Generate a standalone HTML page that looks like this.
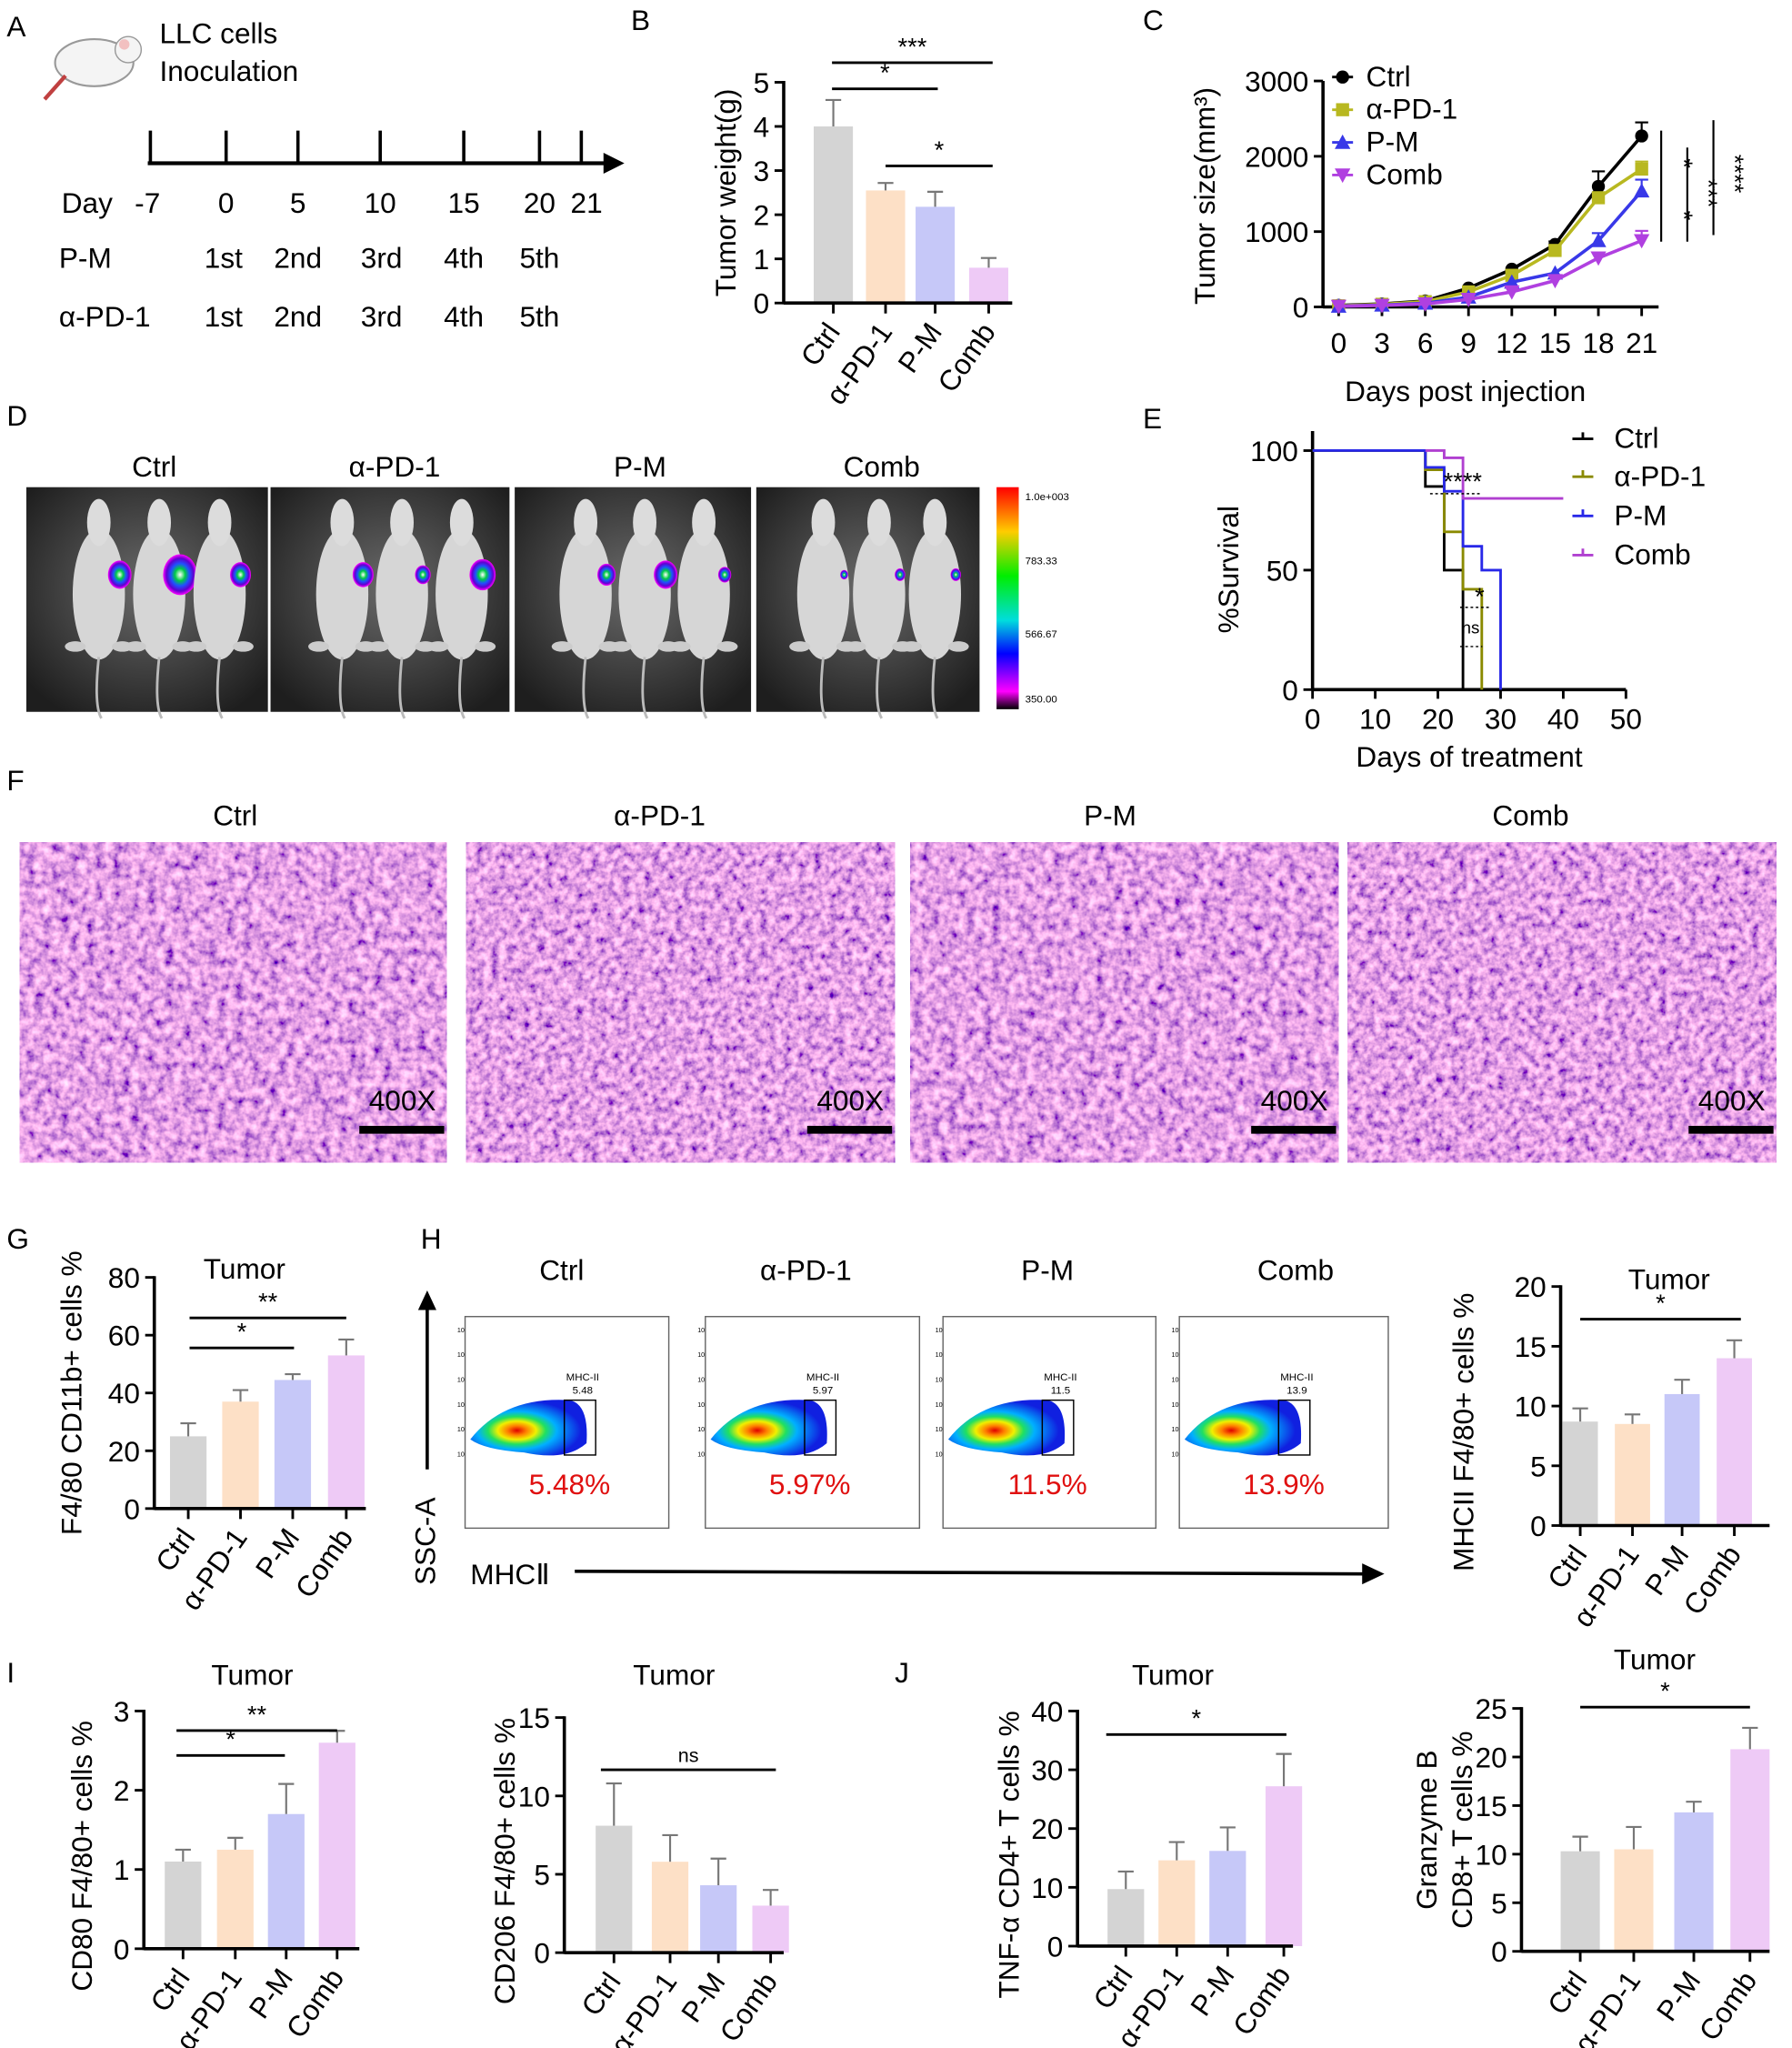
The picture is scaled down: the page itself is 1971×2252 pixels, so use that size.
<!DOCTYPE html>
<html><head><meta charset="utf-8">
<style>
html,body{margin:0;padding:0;background:#fff;}
svg{display:block;font-family:"Liberation Sans",Arial,sans-serif;}
</style></head>
<body>
<svg id="s" xmlns="http://www.w3.org/2000/svg" width="1971" height="2252" viewBox="0 0 1372 1568">
<defs>
<filter id="he" x="0" y="0" width="100%" height="100%">
<feTurbulence type="fractalNoise" baseFrequency="0.15" numOctaves="3" seed="3"/>
<feColorMatrix type="matrix" values="1.8 0 0 0 -0.12  1.1 0 0 0 -0.2  0.8 0 0 0 0.38  0 0 0 0 1"/>
</filter>
<filter id="he2" x="0" y="0" width="100%" height="100%">
<feTurbulence type="fractalNoise" baseFrequency="0.17" numOctaves="3" seed="9"/>
<feColorMatrix type="matrix" values="1.8 0 0 0 -0.12  1.1 0 0 0 -0.2  0.8 0 0 0 0.38  0 0 0 0 1"/>
</filter>
<radialGradient id="bg" cx="50%" cy="45%" r="65%"><stop offset="0" stop-color="#6a6a6a"/><stop offset="1" stop-color="#1e1e1e"/></radialGradient>
<linearGradient id="cb" x1="0" y1="0" x2="0" y2="1">
<stop offset="0" stop-color="#ff0000"/><stop offset="0.2" stop-color="#ffcc00"/><stop offset="0.4" stop-color="#00ee00"/><stop offset="0.6" stop-color="#00dddd"/><stop offset="0.75" stop-color="#0000ff"/><stop offset="0.92" stop-color="#ff00ff"/><stop offset="1" stop-color="#000"/></linearGradient>
<radialGradient id="flow" cx="40%" cy="55%" r="55%"><stop offset="0" stop-color="#e00000"/><stop offset="0.15" stop-color="#ff8000"/><stop offset="0.3" stop-color="#f0f000"/><stop offset="0.45" stop-color="#20e060"/><stop offset="0.62" stop-color="#00b0ff"/><stop offset="1" stop-color="#1020e0"/></radialGradient>
<radialGradient id="lum" cx="50%" cy="50%" r="50%"><stop offset="0" stop-color="#ffffff"/><stop offset="0.3" stop-color="#00cc44"/><stop offset="0.55" stop-color="#2050ff"/><stop offset="0.8" stop-color="#6000d0"/><stop offset="1" stop-color="#ff00ff"/></radialGradient>
</defs>
<g id="root"></g>
</svg>
<script>
const root=document.getElementById('root');
let H='';
function t(x,y,s,o){o=o||{};H+=`<text x="${x}" y="${y}" font-size="${o.fs||22}" text-anchor="${o.a||'start'}" fill="${o.c||'#000'}" ${o.r!==undefined?`transform="rotate(${o.r} ${x} ${y})"`:''} ${o.fw?`font-weight="${o.fw}"`:''}>${s}</text>`;}
function l(x1,y1,x2,y2,w,c,d){H+=`<line x1="${x1}" y1="${y1}" x2="${x2}" y2="${y2}" stroke="${c||'#000'}" stroke-width="${w||2}" ${d?`stroke-dasharray="${d}"`:''}/>`;}
const COL=['#d4d4d4','#fde0c6','#c6c8f8','#eecaf6'];
const XL=['Ctrl','α-PD-1','P-M','Comb'];
function bar(o){
 const sc=(o.yb-o.yt)/o.max; const Y=v=>o.yb-v*sc;
 o.bars.forEach((b,i)=>{
  H+=`<rect x="${b[0]-o.w/2}" y="${Y(b[1])}" width="${o.w}" height="${b[1]*sc}" fill="${COL[i]}"/>`;
  l(b[0],Y(b[1]),b[0],Y(b[2]),1.5,'#777');l(b[0]-6,Y(b[2]),b[0]+6,Y(b[2]),1.5,'#777');
 });
 l(o.x0,o.yt-1,o.x0,o.yb+1,2.5);l(o.x0,o.yb,o.xe,o.yb,2.5);
 for(let v=0;v<=o.max+1e-9;v+=o.step){l(o.x0-7,Y(v),o.x0,Y(v),2);t(o.x0-11,Y(v)+8,v,{a:'end'});}
 o.bars.forEach((b,i)=>{l(b[0],o.yb,b[0],o.yb+8,2);t(b[0]+6,o.yb+22,XL[i],{a:'end',r:-55});});
 (o.sig||[]).forEach(s=>{l(s[0],s[2],s[1],s[2],2);t((s[0]+s[1])/2,s[2]-6,s[3],{a:'middle',fs:s[3]=='ns'?15:19});});
 if(o.title)t(o.title[0],o.title[1],'Tumor',{a:'middle'});
 (o.yl||[]).forEach(y=>t(y[0],(o.yt+o.yb)/2+(y[2]||0),y[1],{a:'middle',r:-90}));
}
// ---------- A ----------
t(5,28,'A');
H+=`<ellipse cx="72" cy="48" rx="30" ry="18" fill="#f4f4f4" stroke="#999" stroke-width="1.5"/><circle cx="98" cy="38" r="10" fill="#f4f4f4" stroke="#999"/><circle cx="95" cy="34" r="4" fill="#f2c0c0"/><line x1="50" y1="58" x2="34" y2="76" stroke="#c04040" stroke-width="3"/>`;
t(122,33,'LLC cells');t(122,62,'Inoculation');
l(113,125,465,125,3);H+=`<polygon points="462,117 478,125 462,133" fill="#000"/>`;
[115,173,228,291,355,413,445].forEach(x=>l(x,100,x,125,2.5));
t(47,163,'Day');t(103,163,'-7');t(173,163,'0',{a:'middle'});t(228,163,'5',{a:'middle'});t(291,163,'10',{a:'middle'});t(355,163,'15',{a:'middle'});t(413,163,'20',{a:'middle'});t(449,163,'21',{a:'middle'});
t(45,205,'P-M');t(45,250,'α-PD-1');
[['1st',171],['2nd',228],['3rd',292],['4th',355],['5th',413]].forEach(a=>{t(a[1],205,a[0],{a:'middle'});t(a[1],250,a[0],{a:'middle'});});
// ---------- B ----------
t(483,23,'B');
bar({x0:600,xe:775,yt:63,yb:232,max:5,step:1,w:30,bars:[[638,4,4.6],[678,2.55,2.72],[716,2.18,2.52],[757,0.8,1.02]],
 sig:[[637,760,48,'***'],[637,718,68,'*'],[678,760,127,'*']],yl:[[563,'Tumor weight(g)']]});
// ---------- C ----------
t(875,23,'C');
(function(){
 const x0=1013,yb=235,yt=62,X=d=>1025+d*11.05,Y=v=>yb-v*(yb-yt)/3000;
 l(x0,yt,x0,yb+1,2.5);l(x0,yb,1270,yb,2.5);
 [0,1000,2000,3000].forEach(v=>{l(x0-7,Y(v),x0,Y(v),2);t(x0-11,Y(v)+8,v,{a:'end'});});
 [0,3,6,9,12,15,18,21].forEach(d=>{l(X(d),yb,X(d),yb+7,2);t(X(d),yb+35,d,{a:'middle'});});
 const D=[0,3,6,9,12,15,18,21];
 const S=[['#000',[20,40,80,250,500,830,1600,2270],'c',[0,0,0,0,0,40,200,180]],['#b8b820',[15,35,70,200,420,750,1450,1830],'s',[0,0,0,0,0,0,0,100]],['#3838e8',[10,25,50,130,330,450,880,1540],'t',[0,0,0,0,0,0,100,150]],['#b040e0',[8,20,40,100,200,350,650,880],'v',[0,0,0,0,0,0,0,130]]];
 S.forEach(s=>{
  let p=D.map((d,i)=>X(d)+','+Y(s[1][i])).join(' ');
  H+=`<polyline points="${p}" fill="none" stroke="${s[0]}" stroke-width="2.5"/>`;
  D.forEach((d,i)=>{const x=X(d),y=Y(s[1][i]);if(s[3][i]){l(x,y,x,Y(s[1][i]+s[3][i]),1.5,s[0]);l(x-5,Y(s[1][i]+s[3][i]),x+5,Y(s[1][i]+s[3][i]),1.5,s[0]);}
   mk(s[2],x,y,s[0]);});
 });
 function mk(k,x,y,c){if(k=='c')H+=`<circle cx="${x}" cy="${y}" r="5" fill="${c}"/>`;else if(k=='s')H+=`<rect x="${x-5}" y="${y-5}" width="10" height="10" fill="${c}"/>`;else if(k=='t')H+=`<polygon points="${x},${y-6} ${x-6},${y+5} ${x+6},${y+5}" fill="${c}"/>`;else H+=`<polygon points="${x},${y+6} ${x-6},${y-5} ${x+6},${y-5}" fill="${c}"/>`;}
 [['Ctrl',66],['α-PD-1',91],['P-M',116],['Comb',141]].forEach((a,i)=>{l(1020,a[1]-7,1036,a[1]-7,2,S[i][0]);mk(S[i][2],1028,a[1]-7,S[i][0]);t(1046,a[1],a[0]);});
 l(1272,100,1272,185,1.5);l(1292,113,1292,185,1.5);l(1312,92,1312,180,1.5);
 t(1283,125,'*',{a:'middle',r:90,fs:19});t(1283,165,'*',{a:'middle',r:90,fs:19});t(1302,148,'***',{a:'middle',r:90,fs:19});t(1322,133,'****',{a:'middle',r:90,fs:19});
 t(1122,307,'Days post injection',{a:'middle'});
 t(930,150,'Tumor size(mm³)',{a:'middle',r:-90});
})();
// ---------- D ----------
t(5,326,'D');
[[20,205,'Ctrl',118],[207,390,'α-PD-1',302],[394,575,'P-M',490],[579,750,'Comb',675]].forEach((p,k)=>{
 H+=`<rect x="${p[0]}" y="373" width="${p[1]-p[0]}" height="172" fill="url(#bg)"/>`;
 t(p[3],365,p[2],{a:'middle'});
 const w=p[1]-p[0];
 [0.3,0.55,0.8].forEach((f,j)=>{const cx=p[0]+w*f,cy=455;
  H+=`<ellipse cx="${cx}" cy="${cy}" rx="20" ry="50" fill="#d6d6d6"/><ellipse cx="${cx}" cy="${cy-55}" rx="9" ry="18" fill="#dcdcdc"/><path d="M${cx} ${cy+48} Q${cx-4} ${cy+85} ${cx+2} ${cy+95}" stroke="#bbb" stroke-width="2" fill="none"/><ellipse cx="${cx-18}" cy="${cy+40}" rx="8" ry="4" fill="#ccc"/><ellipse cx="${cx+18}" cy="${cy+40}" rx="8" ry="4" fill="#ccc"/>`;
  const sz=[[9,13,8],[8,6,10],[7,9,5],[3,4,4]][k][j];
  H+=`<ellipse cx="${cx+16}" cy="${cy-15}" rx="${sz}" ry="${sz*1.2}" fill="url(#lum)"/>`;
 });
});
H+=`<rect x="763" y="373" width="17" height="170" fill="url(#cb)"/>`;
t(785,383,'1.0e+003',{fs:8});t(785,432,'783.33',{fs:8});t(785,488,'566.67',{fs:8});t(785,538,'350.00',{fs:8});
// ---------- E ----------
t(875,328,'E');
(function(){
 const x0=1005,yb=528,yt=345,X=d=>x0+d*4.8,Y=v=>yb-v*(yb-yt)/100;
 l(x0,yt-15,x0,yb,2.5);l(x0,yb,1245,yb,2.5);
 [0,50,100].forEach(v=>{l(x0-7,Y(v),x0,Y(v),2);t(x0-11,Y(v)+8,v,{a:'end'});});
 [0,10,20,30,40,50].forEach(d=>{l(X(d),yb,X(d),yb+7,2);t(X(d),yb+30,d,{a:'middle'});});
 const st=(pts,c)=>{let s='M'+X(pts[0][0])+' '+Y(pts[0][1]);for(let i=1;i<pts.length;i++){s+=' H'+X(pts[i][0])+' V'+Y(pts[i][1]);}H+=`<path d="${s}" fill="none" stroke="${c}" stroke-width="2"/>`;};
 st([[0,100],[18,100],[18,85],[21,85],[21,50],[24,50],[24,0]],'#000');
 st([[0,100],[18,100],[18,92],[21,92],[21,66],[24,66],[24,42],[27,42],[27,0]],'#8a8a00');
 st([[0,100],[18,100],[18,93],[21,93],[21,83],[24,83],[24,60],[27,60],[27,50],[30,50],[30,0]],'#2828e8');
 st([[18,100],[21,100],[21,97],[24,97],[24,80],[40,80]],'#b040d0');
 l(1095,378,1135,378,1,'#000','2,2');l(1118,465,1140,465,1,'#000','2,2');l(1118,495,1135,495,1,'#000','2,2');
 t(1120,375,'****',{a:'middle',fs:19});t(1133,463,'*',{a:'middle',fs:19});t(1126,485,'ns',{a:'middle',fs:13});
 [['Ctrl',343,'#000'],['α-PD-1',372,'#8a8a00'],['P-M',402,'#2828e8'],['Comb',432,'#b040d0']].forEach(a=>{l(1204,a[1]-7,1220,a[1]-7,2,a[2]);l(1212,a[1]-12,1212,a[1]-7,2,a[2]);t(1236,a[1],a[0]);});
 t(1125,587,'Days of treatment',{a:'middle'});
 t(948,436,'%Survival',{a:'middle',r:-90});
})();
// ---------- F ----------
t(5,605,'F');
[[15,342,'Ctrl',180,'he'],[357,685,'α-PD-1',505,'he2'],[697,1025,'P-M',850,'he'],[1032,1360,'Comb',1172,'he2']].forEach(p=>{
 t(p[3],632,p[2],{a:'middle'});
 H+=`<rect x="${p[0]}" y="645" width="${p[1]-p[0]}" height="245" fill="#c070d0" filter="url(#${p[4]})"/>`;
 H+=`<rect x="${p[1]-67}" y="862" width="65" height="6" fill="#000"/>`;
 t(p[1]-34,850,'400X',{a:'middle'});
});
// ---------- G ----------
t(5,956,'G');
bar({x0:118,xe:280,yt:978,yb:1155,max:80,step:20,w:28,bars:[[144,25,29.5],[184,37,41],[224,44.5,46.5],[265,53,58.5]],
 sig:[[145,265,1009,'**'],[145,225,1032,'*']],title:[187,979],yl:[[62,'F4/80 CD11b+ cells %',0]]});
// ---------- H ----------
t(322,956,'H');
[['Ctrl',430,356,512,'5.48%','5.48'],['α-PD-1',617,540,704,'5.97%','5.97'],['P-M',802,722,885,'11.5%','11.5'],['Comb',992,903,1063,'13.9%','13.9']].forEach((p,i)=>{
 t(p[1],980,p[0],{a:'middle'});
 H+=`<rect x="${p[2]}" y="1008" width="${p[3]-p[2]}" height="162" fill="#fff" stroke="#666" stroke-width="1"/>`;
 const cx=p[2]+45,cy=1097;
 H+=`<path d="M${p[2]+4} ${cy+5} Q${cx-15} ${cy-28} ${cx+35} ${cy-25} Q${cx+50} ${cy-22} ${cx+48} ${cy+8} Q${cx+32} ${cy+22} ${cx} ${cy+15} Q${p[2]+15} ${cy+13} ${p[2]+4} ${cy+5}Z" fill="url(#flow)"/>`;
 H+=`<rect x="${p[2]+76}" y="1072" width="24" height="42" fill="none" stroke="#000" stroke-width="1"/>`;
 t(p[2]+90,1057,'MHC-II',{a:'middle',fs:8});t(p[2]+90,1067,p[5],{a:'middle',fs:8});
 t(p[2]+80,1144,p[4],{a:'middle',c:'#e01010'});
 for(let k=0;k<6;k++){t(p[2]-6,1020+k*19,'10',{fs:5});}
});
l(327,1125,327,1000,2.5);H+=`<polygon points="320,1003 327,988 334,1003" fill="#000"/>`;
t(333,1180,'SSC-A',{a:'middle',r:-90});
t(360,1213,'MHCⅡ');
l(440,1203,1045,1205,2.5);H+=`<polygon points="1043,1197 1060,1205 1043,1213" fill="#000"/>`;
bar({x0:1195,xe:1355,yt:985,yb:1168,max:20,step:5,w:27,bars:[[1210,8.7,9.8],[1250,8.5,9.3],[1288,11,12.2],[1328,14,15.5]],
 sig:[[1210,1333,1010,'*']],title:[1278,987],yl:[[1128,'MHCII F4/80+ cells %',20]]});
// ---------- I ----------
t(5,1288,'I');
bar({x0:110,xe:275,yt:1310,yb:1492,max:3,step:1,w:28,bars:[[140,1.1,1.25],[180,1.25,1.4],[219,1.7,2.08],[258,2.6,2.75]],
 sig:[[135,258,1325,'**'],[135,218,1344,'*']],title:[193,1290],yl:[[70,'CD80 F4/80+ cells %',20]]});
bar({x0:432,xe:600,yt:1315,yb:1495,max:15,step:5,w:28,bars:[[470,8.1,10.8],[513,5.8,7.5],[550,4.3,6],[590,3,4]],
 sig:[[460,594,1355,'ns']],title:[516,1290],yl:[[394,'CD206 F4/80+ cells %',20]]});
// ---------- J ----------
t(685,1288,'J');
bar({x0:825,xe:990,yt:1310,yb:1490,max:40,step:10,w:28,bars:[[862,9.7,12.7],[901,14.6,17.7],[940,16.2,20.2],[983,27.2,32.7]],
 sig:[[847,985,1328,'*']],title:[898,1290],yl:[[780,'TNF-α CD4+ T cells %',20]]});
bar({x0:1165,xe:1355,yt:1308,yb:1494,max:25,step:5,w:30,bars:[[1210,10.3,11.8],[1251,10.5,12.8],[1297,14.3,15.4],[1340,20.8,23]],
 sig:[[1210,1340,1307,'*']],title:[1267,1278],yl:[[1100,'Granzyme B',0],[1127,'CD8+ T cells %',0]]});
root.innerHTML=H;
</script>
</body></html>
